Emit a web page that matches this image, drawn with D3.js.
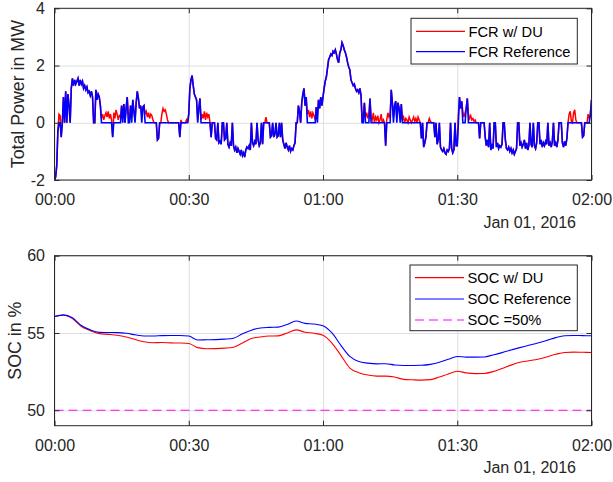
<!DOCTYPE html>
<html>
<head>
<meta charset="utf-8">
<script src="https://cdn.jsdelivr.net/npm/d3@7"></script>
<style>
  body { margin: 0; background: #fff; }
  svg { display: block; font-family: "Liberation Sans", Arial, Helvetica, sans-serif; }
</style>
</head>
<body>
<div id="chart"></div>
<script>
// FCR power, one sample every 15 s from 00:00 to 02:00 (MW), one row = 5 minutes
const sampleSeconds = 15;
const fcrRef = [
  -2.0, -1.9, -1.5, -0.3, 0, 0, -0.5, 0, 0.9, 0, 1.1, 0, 1.0, 0.6, 0, 1.2, 1.55, 1.3, 1.5, 1.35,
  1.45, 1.55, 1.3, 1.5, 1.35, 1.45, 1.2, 1.3, 1.15, 1.25, 1.05, 1.1, 0.95, 1.1, 0.9, 0, 0, 1.15, 0.8, 1.0,
  0.9, 0.6, 0, 0, 0, 0, 0, 0, 0, 0, 0, 0, -0.5, 0, 0, 0, 0, 0, 0, 0,
  0.6, 0, 0.65, 0, 0.5, 0.9, 0, 0, 0.6, 0, 0.8, 0.4, 0, 0.7, 1.1, 0.85, 0.5, 0.6, 0, 0.55,
  0.6, 0, 0, 0, 0, 0, 0, 0, 0, 0, 0, 0, -0.6, -0.55, 0, 0, 0, 0, 0, 0,
  0, 0, 0, 0, 0, 0, 0, 0, 0, 0, 0, 0, -0.5, 0, 0, 0, 0, 0, 0, 0,
  0.3, 1.2, 1.5, 1.65, 1.3, 1.0, 0.9, 0.8, 0, 0.5, 0.85, 0, 0, 0, 0, 0, 0, 0, 0, 0,
  -0.5, 0, 0, 0, -0.55, -0.6, 0, -0.7, -0.65, -0.75, 0, 0, -0.6, -0.55, 0, -0.75, -0.85, -0.7, -0.8, 0,
  -0.8, -0.95, -0.85, -1.05, -0.9, -1.0, -1.1, -0.95, -1.15, -1.05, -1.2, -0.95, -0.85, -0.9, -0.8, -0.95, 0, -0.7, -0.8, -0.65,
  -0.75, 0, -0.6, -0.8, -0.7, 0, -0.75, 0, 0, 0, 0, 0, 0, -0.5, -0.45, 0, -0.5, -0.4, 0, -0.5,
  -0.45, 0, -0.5, 0, -0.6, -0.75, -0.9, -0.7, -0.85, -0.95, -0.8, -1.0, -0.9, -0.95, -0.8, -0.7, 0, 0, 0.6, 0.4,
  0, 0.7, 1.0, 1.2, 0.6, 0.9, 0, 0, 0, 0, 0, 0, 0, 0, 0.55, 0, 0.8, 0.5, 0.9, 0.6,
  0.9, 1.2, 1.45, 1.6, 1.9, 2.2, 2.3, 2.4, 2.35, 2.5, 2.45, 2.55, 2.4, 2.2, 2.1, 2.45, 2.55, 2.8, 2.7, 2.55,
  2.45, 2.3, 2.1, 1.95, 1.85, 1.5, 1.4, 1.3, 1.35, 1.2, 1.1, 1.15, 1.05, 1.2, 0.95, 0, 0, 0.7, 0, 0,
  0, 0, 0.85, 0, 0, 0, 0, 0, 0, 0, 0, 0, 0, 0, 0, 0, -0.8, 0, 0, 0,
  0, 1.15, 0.7, 0, 0.6, 0.75, 0, 0.7, 0.5, 0, 0.65, 0, 0, 0, 0, 0, 0, 0, 0, 0,
  0, 0, 0, 0, 0, 0, 0, 0, -0.55, 0, -0.85, -0.7, -0.5, 0, 0, 0, 0, 0, 0, 0,
  -0.5, 0, -0.75, -0.6, 0, -0.85, -0.95, -1.0, -0.9, -1.05, -1.1, -0.95, -1.0, -0.9, 0, -0.9, -1.05, -0.95, 0, -0.8,
  -0.8, 0, 0.9, 0.5, 0.75, 0, 0, 0, 0.5, 0.85, 0, 0, 0, 0, 0, 0, 0, 0, 0, 0,
  -0.55, 0, 0, 0, 0, -0.5, -0.8, -0.6, -0.85, 0, -0.95, -0.8, -0.9, 0, 0, -0.85, -0.7, -0.9, -0.8, -0.85,
  -0.75, 0, 0, -0.6, -0.9, -0.95, -0.85, -1.0, -0.9, -1.05, -0.95, -1.1, -1.0, -0.9, 0, 0, -0.8, -0.7, -0.85, -0.75,
  -0.6, -0.9, -0.7, -0.95, -0.8, 0, -0.75, -0.85, 0, -0.8, -0.9, -0.7, 0, 0, -0.75, -0.6, -0.85, -0.7, -0.8, -0.65,
  -0.75, 0, -0.8, -0.7, -0.85, -0.65, 0, -0.8, -0.7, -0.85, -0.6, 0, 0, 0, -0.7, -0.85, -0.65, -0.8, -0.55, 0,
  0, 0, 0, 0, 0, 0, 0, 0, 0, 0, 0, 0, -0.5, -0.45, 0, 0, 0, 0, 0, 0.3,
  0.8
];
const fcrDu = [
  -2.0, -1.9, -1.5, -0.3, 0.3, 0.25, -0.5, 0, 0.9, 0, 1.1, 0, 1.0, 0.6, 0, 1.2, 1.55, 1.3, 1.5, 1.35,
  1.45, 1.55, 1.3, 1.5, 1.35, 1.45, 1.2, 1.3, 1.15, 1.25, 1.05, 1.1, 0.95, 1.1, 0.9, 0, 0, 1.15, 0.8, 1.0,
  0.9, 0.6, 0.15, 0.3, 0.1, 0.25, 0.35, 0.2, 0.4, 0.15, 0.3, 0.1, -0.5, 0.35, 0.15, 0.45, 0.3, 0.1, 0.25, 0.2,
  0.6, 0.2, 0.65, 0, 0.5, 0.9, 0.3, 0.15, 0.6, 0.2, 0.8, 0.4, 0.1, 0.7, 1.1, 0.85, 0.5, 0.6, 0.3, 0.55,
  0.6, 0.3, 0.4, 0.2, 0.35, 0.15, 0.3, 0.25, 0.1, 0, 0, 0, -0.6, -0.55, 0, 0, 0.3, 0.5, 0.4, 0.45,
  0.3, 0.1, 0, 0, 0, 0, 0, 0, 0, 0, 0, 0, -0.5, 0.1, 0, 0, 0, 0, 0.1, 0,
  0.3, 1.2, 1.5, 1.65, 1.3, 1.0, 0.9, 0.8, 0.1, 0.5, 0.85, 0.1, 0.3, 0.15, 0.4, 0.1, 0.35, 0.2, 0.3, 0,
  -0.5, 0, 0, 0, -0.55, -0.6, 0, -0.7, -0.65, -0.75, 0, 0, -0.6, -0.55, 0, -0.75, -0.85, -0.7, -0.8, 0,
  -0.8, -0.95, -0.85, -1.05, -0.9, -1.0, -1.1, -0.95, -1.15, -1.05, -1.2, -0.95, -0.85, -0.9, -0.8, -0.95, 0, -0.7, -0.8, -0.65,
  -0.75, 0, -0.6, -0.8, -0.7, 0, -0.75, 0, 0, 0.2, 0, 0, 0, -0.5, -0.45, 0, -0.5, -0.4, 0, -0.5,
  -0.45, 0, -0.5, 0, -0.6, -0.75, -0.9, -0.7, -0.85, -0.95, -0.8, -1.0, -0.9, -0.95, -0.8, -0.7, 0, 0, 0.6, 0.4,
  0, 0.7, 1.0, 1.2, 0.6, 0.9, 0.3, 0.45, 0.2, 0.4, 0.15, 0.35, 0.25, 0.1, 0.55, 0.3, 0.8, 0.5, 0.9, 0.6,
  0.9, 1.2, 1.45, 1.6, 1.9, 2.2, 2.3, 2.4, 2.35, 2.5, 2.45, 2.55, 2.4, 2.2, 2.1, 2.45, 2.55, 2.8, 2.7, 2.55,
  2.45, 2.3, 2.1, 1.95, 1.85, 1.5, 1.4, 1.3, 1.35, 1.2, 1.1, 1.15, 1.05, 1.2, 0.95, 0, 0.3, 0.7, 0.2, 0.35,
  0.15, 0.3, 0.85, 0.2, 0.1, 0.35, 0, 0.2, 0.1, 0.25, 0, 0.1, 0.3, 0, 0.1, 0, -0.8, 0.1, 0.35, 0.2,
  0.3, 1.15, 0.7, 0.2, 0.6, 0.75, 0.15, 0.7, 0.5, 0.25, 0.65, 0.1, 0.2, 0, 0.15, 0.1, 0, 0.2, 0.1, 0,
  0.1, 0.2, 0.05, 0.15, 0, 0.2, 0.1, 0, -0.55, 0, -0.85, -0.7, -0.5, 0, 0, 0.15, 0.05, 0, 0, 0,
  -0.5, 0, -0.75, -0.6, 0, -0.85, -0.95, -1.0, -0.9, -1.05, -1.1, -0.95, -1.0, -0.9, 0, -0.9, -1.05, -0.95, 0, -0.8,
  -0.8, 0.3, 0.9, 0.5, 0.75, 0.4, 0.2, 0.35, 0.5, 0.85, 0.3, 0.15, 0.25, 0.1, 0.15, 0.05, 0.1, 0, 0, 0,
  -0.55, 0, 0, 0, 0, -0.5, -0.8, -0.6, -0.85, 0, -0.95, -0.8, -0.9, 0, 0, -0.85, -0.7, -0.9, -0.8, -0.85,
  -0.75, 0, 0, -0.6, -0.9, -0.95, -0.85, -1.0, -0.9, -1.05, -0.95, -1.1, -1.0, -0.9, 0, 0, -0.8, -0.7, -0.85, -0.75,
  -0.6, -0.9, -0.7, -0.95, -0.8, 0, -0.75, -0.85, 0, -0.8, -0.9, -0.7, 0, 0, -0.75, -0.6, -0.85, -0.7, -0.8, -0.65,
  -0.75, 0, -0.8, -0.7, -0.85, -0.65, 0, -0.8, -0.7, -0.85, -0.6, 0, 0, 0, -0.7, -0.85, -0.65, -0.8, -0.55, 0,
  0.3, 0.4, 0.05, 0, 0.35, 0.45, 0.1, 0, 0, 0, 0, 0, -0.5, -0.45, 0, 0, 0, 0.3, 0.15, 0.3,
  0.8
];

// State of charge, minutes after 00:00 (%)
const socMinutes = [0, 2, 4, 6, 8, 10, 12, 14, 16, 18, 20, 22, 24, 26, 28, 30,
  32, 34, 36, 38, 40, 42, 44, 46, 48, 50, 52, 54, 56, 58, 60,
  62, 64, 66, 68, 70, 72, 74, 76, 78, 80, 82, 84, 86, 88, 90,
  92, 94, 96, 98, 100, 102, 104, 106, 108, 110, 112, 114, 116, 118, 120];
const socRef = [56.06, 56.17, 55.98, 55.48, 55.2, 55.04, 55.03, 55.02, 54.98, 54.88, 54.8, 54.8, 54.83, 54.84, 54.84, 54.8,
  54.55, 54.56, 54.57, 54.6, 54.66, 54.95, 55.18, 55.32, 55.36, 55.38, 55.55, 55.77, 55.62, 55.58, 55.47,
  55.0, 54.2, 53.48, 53.15, 53.05, 53.0, 53.01, 52.93, 52.9, 52.9, 52.91, 52.97, 53.1, 53.3, 53.48,
  53.44, 53.44, 53.45, 53.58, 53.73, 53.9, 54.05, 54.2, 54.35, 54.52, 54.7, 54.82, 54.84, 54.83, 54.82];
const socDu = [56.06, 56.15, 55.93, 55.42, 55.15, 54.96, 54.91, 54.85, 54.74, 54.58, 54.43, 54.37, 54.38, 54.36, 54.35, 54.32,
  54.05, 53.98, 53.99, 54.02, 54.08, 54.35, 54.64, 54.74, 54.8, 54.81, 55.0, 55.2, 55.05, 54.98, 54.86,
  54.35, 53.55, 52.73, 52.43, 52.28, 52.21, 52.21, 52.15, 52.0, 51.97, 51.95, 51.98, 52.15, 52.35, 52.52,
  52.42, 52.37, 52.38, 52.5, 52.7, 52.92, 53.1, 53.2, 53.3, 53.45, 53.62, 53.74, 53.76, 53.75, 53.74];
const socLimit = 50;

const powerTicks = [-2, 0, 2, 4];
const socTicks = [50, 55, 60];
const dateLabel = "Jan 01, 2016";
const powerLegend = ["FCR w/ DU", "FCR Reference"];
const socLegend = ["SOC w/ DU", "SOC Reference", "SOC =50%"];

const W = 613, H = 482,
    axisColor = "#262626",
    gridColor = "#dfdfdf",
    t0 = Date.UTC(2016, 0, 1, 0, 0),
    t1 = Date.UTC(2016, 0, 1, 2, 0);

let svg = d3.select("#chart").append("svg").attr("width", W).attr("height", H);
svg.append("rect").attr("width", W).attr("height", H).attr("fill", "#fff");

let x = d3.scaleUtc().domain([t0, t1]).range([54.5, 591.5]);

function drawAxes(yTop, yBottom, y, ticks, label, labelX, id) {
    let g = svg.append("g");
    let xTicks = d3.utcMinute.every(30);

    g.append("clipPath").attr("id", id).append("rect")
        .attr("x", x.range()[0]).attr("y", yTop)
        .attr("width", x.range()[1] - x.range()[0]).attr("height", yBottom - yTop);

    // grid
    g.append("g").attr("transform", `translate(0,${yBottom})`)
        .call(d3.axisBottom(x).ticks(xTicks).tickSize(yTop - yBottom).tickFormat(""))
        .call(s => s.select(".domain").remove())
        .call(s => s.selectAll("line").attr("stroke", gridColor));
    g.append("g").attr("transform", `translate(${x.range()[0]},0)`)
        .call(d3.axisLeft(y).tickValues(ticks).tickSize(x.range()[0] - x.range()[1]).tickFormat(""))
        .call(s => s.select(".domain").remove())
        .call(s => s.selectAll("line").attr("stroke", gridColor));

    let plot = g.append("g").attr("clip-path", `url(#${id})`);

    let frame = svg.append("g");
    frame.append("g").attr("transform", `translate(0,${yBottom})`)
        .call(d3.axisBottom(x).ticks(xTicks).tickSize(-5).tickPadding(14).tickFormat(d3.utcFormat("%H:%M")));
    frame.append("g").attr("transform", `translate(0,${yTop})`)
        .call(d3.axisTop(x).ticks(xTicks).tickSize(-5).tickFormat(""));
    frame.append("g").attr("transform", `translate(${x.range()[0]},0)`)
        .call(d3.axisLeft(y).tickValues(ticks).tickSize(-5).tickPadding(9.5).tickFormat(d => String(d)));
    frame.append("g").attr("transform", `translate(${x.range()[1]},0)`)
        .call(d3.axisRight(y).tickValues(ticks).tickSize(-5).tickFormat(""));
    frame.selectAll(".domain").remove();
    frame.selectAll("line").attr("stroke", axisColor);
    frame.selectAll("text").attr("fill", axisColor).attr("font-size", 16)
        .attr("font-family", "Liberation Sans, Arial, sans-serif");
    frame.append("rect")
        .attr("x", x.range()[0]).attr("y", yTop)
        .attr("width", x.range()[1] - x.range()[0]).attr("height", yBottom - yTop)
        .attr("fill", "none").attr("stroke", axisColor).attr("stroke-width", 1);

    frame.append("text")
        .attr("x", 576).attr("y", yBottom + 47.5)
        .attr("text-anchor", "end").attr("font-size", 16).attr("fill", axisColor)
        .text(dateLabel);

    frame.append("text")
        .attr("transform", `translate(${labelX},${(yTop + yBottom) / 2}) rotate(-90)`)
        .attr("text-anchor", "middle").attr("font-size", 17.8).attr("fill", axisColor)
        .text(label);

    return plot;
}

function drawLegend(box, rows, items) {
    let g = svg.append("g");
    g.append("rect")
        .attr("x", box[0]).attr("y", box[1]).attr("width", box[2] - box[0]).attr("height", box[3] - box[1])
        .attr("fill", "#fff").attr("stroke", axisColor).attr("stroke-width", 1);
    items.forEach((it, i) => {
        g.append("line")
            .attr("x1", box[0] + 5).attr("x2", box[0] + 54)
            .attr("y1", rows[i]).attr("y2", rows[i])
            .attr("stroke", it.color).attr("stroke-width", 1.2)
            .attr("stroke-dasharray", it.dash || null);
        g.append("text")
            .attr("x", box[0] + 57.5).attr("y", rows[i]).attr("dy", "0.36em")
            .attr("font-size", 14.7).attr("fill", "#000")
            .text(it.name);
    });
}

// ---- upper panel: total power ----
let yP = d3.scaleLinear().domain([-2, 4]).range([180, 8.3]);
let powerPlot = drawAxes(8.3, 180, yP, powerTicks, "Total Power in MW", 24, "clip-p");

let powerLine = d3.line()
    .x((d, i) => x(t0 + i * sampleSeconds * 1000))
    .y(d => yP(d));

powerPlot.append("path").datum(fcrDu)
    .attr("fill", "none").attr("stroke", "#ff0000").attr("stroke-width", 1.5)
    .attr("d", powerLine);
powerPlot.append("path").datum(fcrRef)
    .attr("fill", "none").attr("stroke", "#0000ff").attr("stroke-width", 1.6)
    .attr("d", powerLine);

drawLegend([411, 18.3, 577.3, 64], [31.3, 51.7], [
    { name: powerLegend[0], color: "#ff0000" },
    { name: powerLegend[1], color: "#0000ff" }
]);

// ---- lower panel: state of charge ----
let yS = d3.scaleLinear().domain([49, 60]).range([425.7, 255.7]);
let socPlot = drawAxes(255.7, 425.7, yS, socTicks, "SOC in %", 21, "clip-s");

let socLine = arr => d3.line()
    .x((d, i) => x(t0 + socMinutes[i] * 60000))
    .y(d => yS(d))
    .curve(d3.curveMonotoneX)(arr);

socPlot.append("path")
    .attr("fill", "none").attr("stroke", "#ff00ff").attr("stroke-width", 1)
    .attr("stroke-dasharray", "9,5")
    .attr("d", d3.line()([[x(t0), yS(socLimit)], [x(t1), yS(socLimit)]]));
socPlot.append("path")
    .attr("fill", "none").attr("stroke", "#ff0000").attr("stroke-width", 1.1)
    .attr("d", socLine(socDu));
socPlot.append("path")
    .attr("fill", "none").attr("stroke", "#0000ff").attr("stroke-width", 1.1)
    .attr("d", socLine(socRef));

drawLegend([410, 265, 577.3, 330.7], [277.7, 299, 320], [
    { name: socLegend[0], color: "#ff0000" },
    { name: socLegend[1], color: "#0000ff" },
    { name: socLegend[2], color: "#ff00ff", dash: "9,5" }
]);
</script>
</body>
</html>
